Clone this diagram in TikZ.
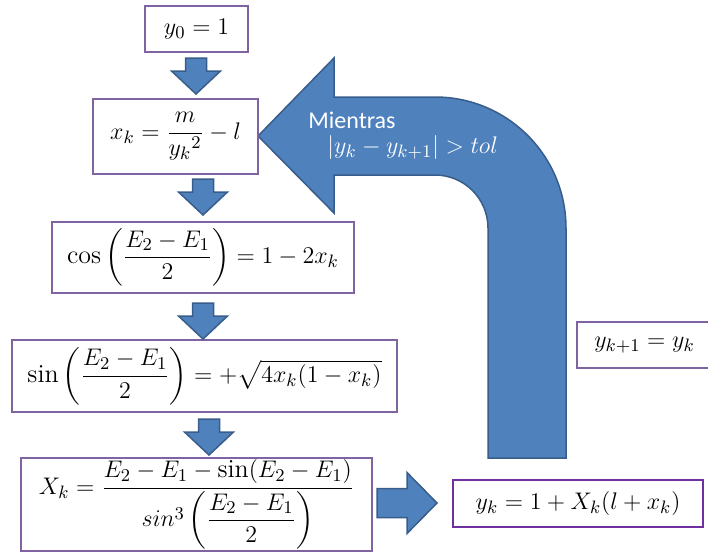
\documentclass[tikz,border=0pt]{standalone}
\usepackage{amsmath}
\usepackage{fontspec}
\newfontfamily\calibrifont{Carlito}
\usetikzlibrary{positioning}

\definecolor{boxpurple}{HTML}{8064A2}
\definecolor{darkpurple}{HTML}{7030A0}
\definecolor{arrowblue}{HTML}{4F81BD}
\definecolor{arrowedge}{HTML}{385D8A}

\begin{document}
\begin{tikzpicture}[
  x=0.5pt, y=-0.5pt,
  font=\fontsize{13}{15}\selectfont,
  eqbox/.style={draw=boxpurple, line width=1.25pt, fill=white, inner sep=0pt, align=center},
  blockarr/.style={fill=arrowblue, draw=arrowedge, line width=0.75pt, line join=miter},
  dnarr/.pic={\path[blockarr] (-10.5,0) -- (-10.5,13) -- (-24.5,13) -- (0,36) -- (24.5,13) -- (10.5,13) -- (10.5,0) -- cycle;},
  rtarr/.pic={\path[blockarr] (0,-14.5) -- (30,-14.5) -- (30,-30.5) -- (60,0) -- (30,30.5) -- (30,14.5) -- (0,14.5) -- cycle;},
]
\clip (0,0) rectangle (708,553);

% Loop arrow (U-turn back to x_k)
\path[blockarr] (488,458) -- (488,228) arc[start angle=0, end angle=-90, radius=53]
  -- (334,175) -- (334,213) -- (258,136) -- (334,58) -- (334,97) -- (435,97)
  arc[start angle=-90, end angle=0, radius=131] -- (566,458) -- cycle;

% Equation boxes
\node[eqbox, minimum width=51.5pt, minimum height=23pt] (y0) at (196.5,29) {$y_0 = 1$};
\node[eqbox, minimum width=82.5pt, minimum height=37.5pt] (xk) at (175.5,136.5) {$x_k = \dfrac{m}{{y_k}^2} - l$};
\node[eqbox, minimum width=151pt, minimum height=35.5pt] (cosE) at (203,257.5) {$\cos\left(\dfrac{E_2 - E_1}{2}\right) = 1 - 2x_k$};
\node[eqbox, minimum width=192.5pt, minimum height=36pt] (sinE) at (204.5,376) {$\sin\left(\dfrac{E_2 - E_1}{2}\right) = +\sqrt{4x_k(1 - x_k)}$};
\node[eqbox, minimum width=175.5pt, minimum height=46.5pt] (Xk) at (196.5,504.5) {$X_k = \dfrac{E_2 - E_1 - \sin(E_2 - E_1)}{sin^3\left(\dfrac{E_2 - E_1}{2}\right)}$};
\node[eqbox, draw=darkpurple, minimum width=125pt, minimum height=23.5pt] (yk) at (578,503.5) {$y_k = 1 + X_k(l + x_k)$};
\node[eqbox, minimum width=67.5pt, minimum height=23pt] (ynext) at (644.5,345) {$y_{k+1} = y_k$};

% Step arrows
\pic at (196,58) {dnarr};
\pic at (203,179) {dnarr};
\pic at (203,303) {dnarr};
\pic at (209,419) {dnarr};
\pic at (377,503) {rtarr};

% Loop condition
\node[anchor=base west, inner sep=0pt, text=white, font=\calibrifont\fontsize{12}{14}\selectfont] (mientras) at (308,128) {Mientras};
\node[anchor=base west, inner sep=0pt, text=white] (cond) at (327,153) {$|y_k - y_{k+1}| > tol$};

\end{tikzpicture}
\end{document}
